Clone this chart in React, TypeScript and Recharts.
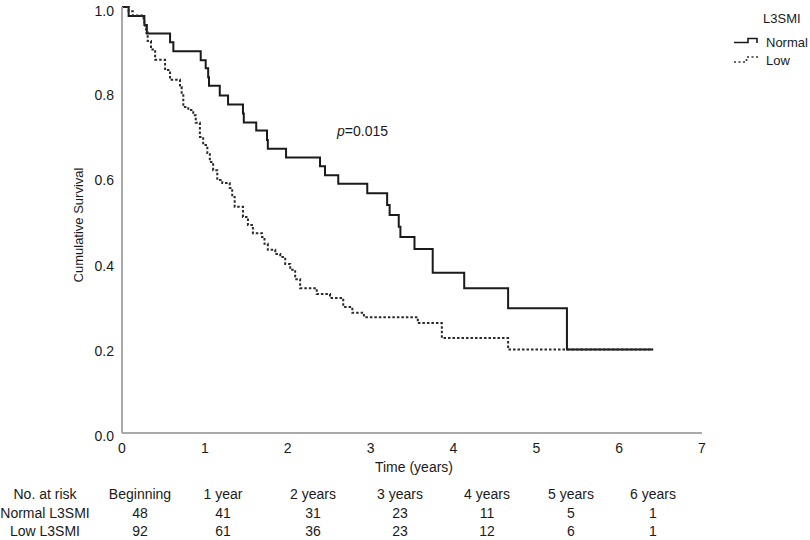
import React from 'react';
import { LineChart, Line, XAxis, YAxis } from 'recharts';

// Kaplan-Meier steps: [time in years, cumulative survival]
const normalSteps: [number, number][] = [
  [0, 1.0], [0.08, 0.979], [0.27, 0.958], [0.3, 0.938], [0.58, 0.917], [0.62, 0.896],
  [0.95, 0.875], [1.01, 0.856], [1.04, 0.835], [1.05, 0.815], [1.18, 0.792], [1.28, 0.771],
  [1.46, 0.75], [1.47, 0.729], [1.62, 0.71], [1.75, 0.688], [1.76, 0.667], [1.98, 0.647],
  [2.39, 0.626], [2.45, 0.605], [2.61, 0.585], [2.96, 0.563], [3.2, 0.535], [3.23, 0.512],
  [3.34, 0.484], [3.36, 0.46], [3.53, 0.432], [3.75, 0.376], [4.13, 0.34], [4.66, 0.293],
  [5.37, 0.196], [6.41, 0.196],
];

const lowSteps: [number, number][] = [
  [0, 1.0], [0.08, 0.99], [0.13, 0.98], [0.26, 0.97], [0.27, 0.96], [0.28, 0.95], [0.29, 0.94],
  [0.31, 0.92], [0.35, 0.9], [0.4, 0.876], [0.52, 0.852], [0.58, 0.829], [0.7, 0.812],
  [0.72, 0.793], [0.74, 0.765], [0.8, 0.758], [0.86, 0.746], [0.89, 0.728], [0.94, 0.695],
  [0.98, 0.676], [1.03, 0.657], [1.06, 0.636], [1.1, 0.617], [1.15, 0.594], [1.21, 0.587],
  [1.3, 0.575], [1.33, 0.554], [1.36, 0.531], [1.46, 0.507], [1.52, 0.488], [1.58, 0.469],
  [1.69, 0.46], [1.72, 0.444], [1.76, 0.43], [1.85, 0.42], [1.91, 0.413], [1.97, 0.397],
  [2.03, 0.383], [2.09, 0.361], [2.15, 0.34], [2.35, 0.326], [2.51, 0.317], [2.67, 0.296],
  [2.78, 0.282], [2.92, 0.272], [3.57, 0.258], [3.86, 0.223], [4.66, 0.196], [6.41, 0.196],
];

const xTicks = [0, 1, 2, 3, 4, 5, 6, 7];
const yTicks = [0, 0.2, 0.4, 0.6, 0.8, 1.0];

const riskHeaders = ['Beginning', '1 year', '2 years', '3 years', '4 years', '5 years', '6 years'];
const riskNormal = [48, 41, 31, 23, 11, 5, 1];
const riskLow = [92, 61, 36, 23, 12, 6, 1];

const normalData = normalSteps.map(([t, s]) => ({ t, s }));
const lowData = lowSteps.map(([t, s]) => ({ t, s }));

const FONT = '"Liberation Sans", Arial, Helvetica, sans-serif';
const INK = '#1a1a1a';
const AXIS = '#a9a9a9';

// plot box in page pixels
const PLOT_LEFT = 122;
const PLOT_RIGHT = 702;
const colX = [140, 223, 313, 400, 487, 571, 653];

export default function App() {
  return (
    <div style={{ position: 'fixed', left: 0, top: 0, width: 810, height: 540, background: '#fff', fontFamily: FONT }}>
      <LineChart
        width={810}
        height={540}
        margin={{ top: 7, right: 810 - PLOT_RIGHT, bottom: 107 - 30, left: PLOT_LEFT - 50 }}
      >
        <XAxis
          dataKey="t"
          type="number"
          domain={[0, 7]}
          ticks={xTicks}
          height={30}
          tickLine={false}
          tickMargin={4}
          axisLine={{ stroke: AXIS, strokeWidth: 2 }}
          tick={{ fill: INK, fontSize: 14, fontFamily: FONT }}
          allowDataOverflow
        />
        <YAxis
          type="number"
          domain={[0, 1]}
          ticks={yTicks}
          width={50}
          tickLine={false}
          axisLine={{ stroke: AXIS, strokeWidth: 2 }}
          tick={{ fill: INK, fontSize: 14, fontFamily: FONT, dy: 3 }}
          tickFormatter={(v: number) => v.toFixed(1)}
        />
        <Line
          data={normalData}
          dataKey="s"
          type="stepAfter"
          stroke={INK}
          strokeWidth={2}
          dot={false}
          isAnimationActive={false}
        />
        <Line
          data={lowData}
          dataKey="s"
          type="stepAfter"
          stroke="#2a2a2a"
          strokeWidth={2}
          strokeDasharray="2.5 2"
          dot={false}
          isAnimationActive={false}
        />
      </LineChart>

      <svg
        width={810}
        height={540}
        style={{ position: 'absolute', left: 0, top: 0, pointerEvents: 'none' }}
        fontFamily={FONT}
        fill={INK}
      >
        <text x={78} y={225} fontSize={13} textAnchor="middle" dominantBaseline="central" transform="rotate(-90 78 225)">
          Cumulative Survival
        </text>
        <text x={(PLOT_LEFT + PLOT_RIGHT) / 2 + 2} y={472} fontSize={14} textAnchor="middle">
          Time (years)
        </text>
        <text x={337} y={136} fontSize={14}>
          <tspan fontStyle="italic">p</tspan>=0.015
        </text>

        {/* legend */}
        <text x={763} y={22.5} fontSize={13}>L3SMI</text>
        <path d="M734 42.5 H748 V38.5 H757 V43" fill="none" stroke={INK} strokeWidth={1.6} />
        <text x={766} y={46.5} fontSize={13}>Normal</text>
        <path d="M734 62 H746.5 V57 H759" fill="none" stroke="#333" strokeWidth={1.6} strokeDasharray="2 2.5" />
        <text x={766} y={64.5} fontSize={13}>Low</text>

        {/* number at risk table */}
        <text x={45} y={499} fontSize={14} textAnchor="middle">No. at risk</text>
        <text x={45} y={517.5} fontSize={14} textAnchor="middle">Normal L3SMI</text>
        <text x={45} y={536} fontSize={14} textAnchor="middle">Low L3SMI</text>
        {riskHeaders.map((h, i) => (
          <text key={h} x={colX[i]} y={499} fontSize={14} textAnchor="middle">{h}</text>
        ))}
        {riskNormal.map((n, i) => (
          <text key={'n' + i} x={colX[i]} y={517.5} fontSize={14} textAnchor="middle">{n}</text>
        ))}
        {riskLow.map((n, i) => (
          <text key={'l' + i} x={colX[i]} y={536} fontSize={14} textAnchor="middle">{n}</text>
        ))}
      </svg>
    </div>
  );
}
